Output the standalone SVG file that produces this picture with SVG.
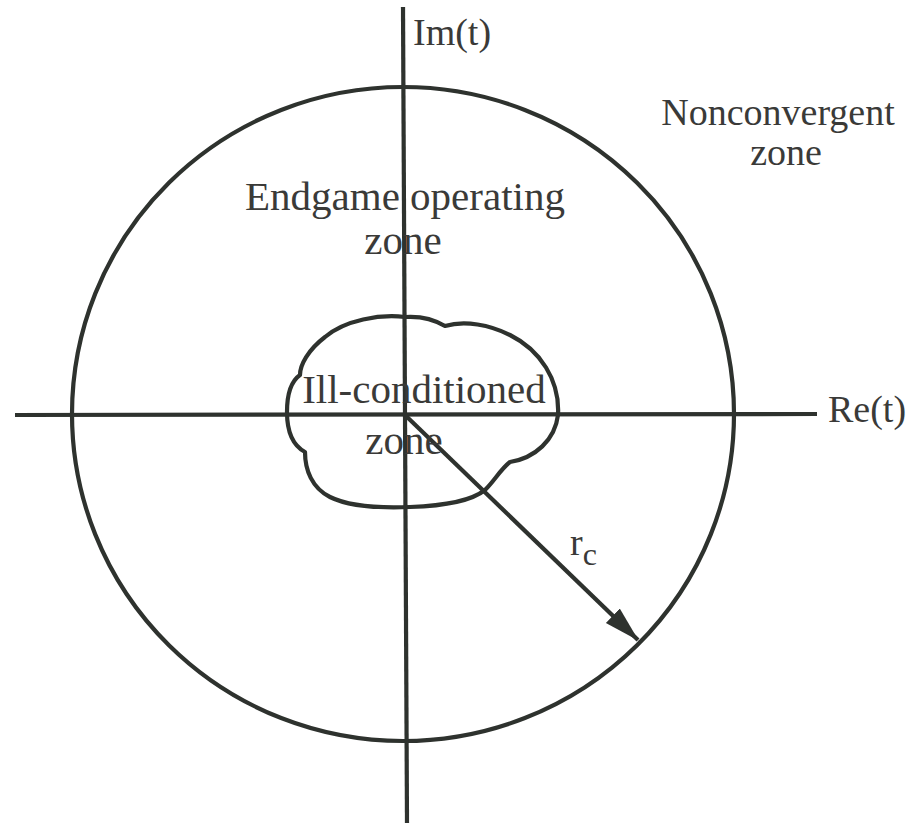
<svg xmlns="http://www.w3.org/2000/svg" width="920" height="823" viewBox="0 0 920 823">
<style>
.ln{fill:none;stroke:#2e322e;stroke-width:4.2;stroke-linecap:butt;stroke-linejoin:round}
.t{font-family:"Liberation Serif","Times New Roman",serif;font-size:38px;fill:#3a3a38}
.b{font-size:41px}
</style>
<defs>
<marker id="ah" viewBox="0 0 36 22" refX="35" refY="11" markerWidth="36" markerHeight="22" markerUnits="userSpaceOnUse" orient="auto">
<path d="M0,1 L36,11 L0,21 Z" fill="#2e322e"/>
</marker>
</defs>
<rect width="920" height="823" fill="#ffffff"/>
<g id="outer-circle"><ellipse class="ln" cx="403" cy="414" rx="331" ry="327"/></g>
<g id="ill-zone"><path class="ln" d="M405 317 C380 314,345 320,325 337 C308 350,300 365,300 375 C290 382,287 395,287 412 C287 432,292 445,305 452 C305 470,312 488,330 497 C350 507,385 508,410 507 C440 506,470 502,485 490 C495 480,500 470,510 462 C535 458,555 440,558 415 C560 380,540 350,510 335 C490 325,465 320,445 326 C435 320,420 316,405 317 Z"/></g>
<g id="connectors">
<line class="ln" x1="15" y1="415" x2="817" y2="414"/>
<line class="ln" x1="403" y1="7" x2="407" y2="823"/>
<line class="ln" x1="405" y1="415" x2="638" y2="640" marker-end="url(#ah)"/>
</g>
<g id="labels">
<text class="t" x="413" y="45">Im(t)</text>
<text class="t" x="828" y="422">Re(t)</text>
<text class="t" x="778" y="125" text-anchor="middle" font-size="39">Nonconvergent</text>
<text class="t" x="786" y="165" text-anchor="middle" font-size="39">zone</text>
<text class="t b" x="405" y="210" text-anchor="middle">Endgame operating</text>
<text class="t b" x="403" y="254" text-anchor="middle">zone</text>
<text class="t b" x="424" y="403" text-anchor="middle">Ill-conditioned</text>
<text class="t b" x="404" y="454" text-anchor="middle">zone</text>
<text class="t" x="570" y="555">r<tspan font-size="32" dy="10">c</tspan></text>
</g>
</svg>
